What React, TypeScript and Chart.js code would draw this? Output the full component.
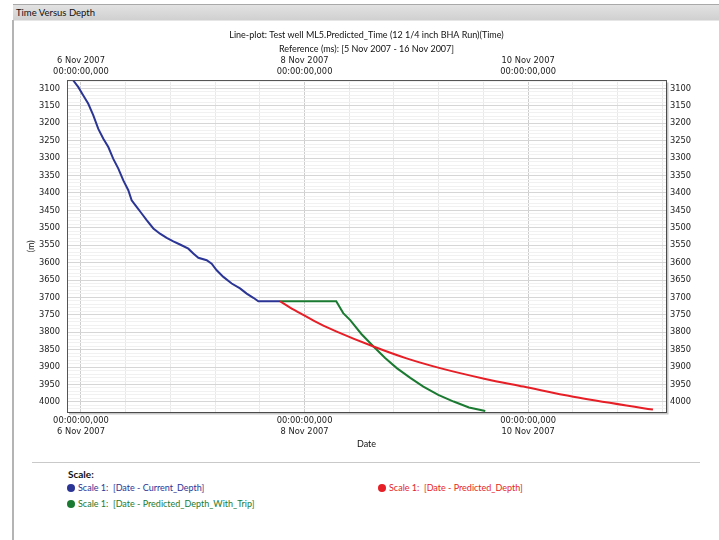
import React, { useEffect, useRef } from 'react';
import { Chart, registerables } from 'chart.js';

Chart.register(...registerables);

// ---------- texts ----------
const windowTitle = 'Time Versus Depth';
const chartTitle = 'Line-plot: Test well ML5.Predicted_Time (12 1/4 inch BHA Run)(Time)';
const chartSubtitle = 'Reference (ms): [5 Nov 2007 - 16 Nov 2007]';
const xAxisTitle = 'Date';
const yAxisTitle = '(m)';
const legendHeading = 'Scale:';

// ---------- data (x = hours since 6 Nov 2007 00:00, y = depth in m) ----------
const currentHours = [-1.65, -0.57, 0.5, 1.57, 2.65, 3.72, 4.8, 5.87, 6.94, 8.02, 9.09, 10.16, 10.88, 11.95, 13.03, 14.1, 15.54, 16.97, 18.4, 19.83, 21.26, 23.05, 24.12, 25.2, 26.99, 28.06, 29.14, 30.57, 32.36, 34.15, 35.58, 37.01, 38.08, 42.74];
const currentDepth = [3077, 3096, 3120, 3144, 3177, 3216, 3244, 3268, 3302, 3330, 3364, 3392, 3421, 3440, 3459, 3478, 3502, 3517, 3529, 3539, 3548, 3560, 3574, 3586, 3593, 3603, 3622, 3641, 3660, 3674, 3689, 3701, 3711, 3711];

const predictedHours = [42.74, 44.9, 47.7, 51.3, 54.9, 62.8, 69.9, 77.1, 86.8, 95.0, 105.7, 122.8];
const predictedDepth = [3711, 3729, 3750, 3776, 3798, 3841, 3875, 3903, 3934, 3956, 3985, 4022];

const tripHours = [42.74, 54.8, 56.3, 57.8, 60.2, 62.8, 65.3, 67.8, 70.7, 73.5, 76.7, 80.0, 83.3, 86.8];
const tripDepth = [3711, 3711, 3745, 3765, 3805, 3841, 3874, 3903, 3931, 3956, 3980, 3999, 4016, 4026];

// ---------- axes ----------
const dateTickHours = [0, 48, 96];
const dateTickLabels = ['6 Nov 2007', '8 Nov 2007', '10 Nov 2007'];
const timeTickLabel = '00:00:00,000';
const depthTickLabels = [3100, 3150, 3200, 3250, 3300, 3350, 3400, 3450, 3500, 3550, 3600, 3650, 3700, 3750, 3800, 3850, 3900, 3950, 4000];
const xMin = -3;
const xMax = 125.6;
const yMin = 3077;
const yMax = 4029;
const minorHourStep = 9.6;
const minorDepthStep = 10;

// ---------- series styling ----------
const seriesNames = ['Scale 1:  [Date - Current_Depth]', 'Scale 1:  [Date - Predicted_Depth]', 'Scale 1:  [Date - Predicted_Depth_With_Trip]'];
const seriesColors = ['#2b3595', '#e61e26', '#1b7a31'];

const tickFont = { family: 'DejaVu Sans', size: 8.3, lineHeight: 11 / 8.3 };
const uiFont = 'Lato, "Open Sans", sans-serif';

function buildXTicks(scale: any) {
  const t: any[] = [];
  for (let i = 0; i * minorHourStep <= xMax; i++) {
    t.push({ value: Math.round(i * minorHourStep * 100) / 100 });
  }
  scale.ticks = t;
}
function buildYTicks(scale: any) {
  const t: any[] = [];
  const start = Math.ceil(yMin / minorDepthStep) * minorDepthStep;
  for (let v = start; v <= yMax; v += minorDepthStep) t.push({ value: v });
  scale.ticks = t;
}
const isMajorHour = (v: number) => dateTickHours.indexOf(v) >= 0;
const isMajorDepth = (v: number) => depthTickLabels.indexOf(v) >= 0;

const shadowPlugin = {
  id: 'frameShadow',
  afterDraw(chart: any) {
    const { ctx, chartArea: a } = chart;
    ctx.save();
    ctx.strokeStyle = 'rgba(0,0,0,0.22)';
    ctx.lineWidth = 2;
    ctx.beginPath();
    ctx.moveTo(a.right + 1.5, a.top + 2);
    ctx.lineTo(a.right + 1.5, a.bottom + 1.5);
    ctx.lineTo(a.left + 2, a.bottom + 1.5);
    ctx.stroke();
    ctx.restore();
  },
};

export default function App() {
  const canvasRef = useRef<HTMLCanvasElement>(null);

  useEffect(() => {
    const canvas = canvasRef.current;
    if (!canvas) return;
    const toPts = (xs: number[], ys: number[]) => xs.map((x, i) => ({ x, y: ys[i] }));
    const borderOpts = { display: true, color: '#555555', width: 1 };
    const chart = new Chart(canvas, {
      type: 'line',
      data: {
        datasets: [
          {
            label: seriesNames[0],
            data: toPts(currentHours, currentDepth),
            borderColor: seriesColors[0],
            backgroundColor: seriesColors[0],
            borderWidth: 2,
            pointRadius: 0,
            tension: 0,
          },
          {
            label: seriesNames[1],
            data: toPts(predictedHours, predictedDepth),
            borderColor: seriesColors[1],
            backgroundColor: seriesColors[1],
            borderWidth: 2,
            pointRadius: 0,
            cubicInterpolationMode: 'monotone',
          },
          {
            label: seriesNames[2],
            data: toPts(tripHours, tripDepth),
            borderColor: seriesColors[2],
            backgroundColor: seriesColors[2],
            borderWidth: 2,
            pointRadius: 0,
            tension: 0,
          },
        ],
      } as any,
      options: {
        responsive: false,
        animation: false,
        events: [],
        layout: { padding: 0 },
        plugins: {
          legend: { display: false },
          tooltip: { enabled: false },
          title: {
            display: true,
            text: chartTitle,
            color: '#111',
            font: { family: uiFont, size: 9, weight: 'normal', lineHeight: 1.2 },
            padding: { top: 7.6, bottom: 0 },
          },
          subtitle: {
            display: true,
            text: chartSubtitle,
            color: '#111',
            font: { family: uiFont, size: 9, weight: 'normal', lineHeight: 1.2 },
            padding: { top: 3.7, bottom: 0 },
          },
        },
        scales: {
          x: {
            type: 'linear',
            position: 'bottom',
            min: xMin,
            max: xMax,
            afterBuildTicks: buildXTicks,
            afterFit: (s: any) => { s.height = 40; },
            ticks: {
              autoSkip: false,
              maxRotation: 0,
              minRotation: 0,
              padding: 3.5,
              color: '#1c1c1c',
              font: tickFont,
              callback: (v: any) => {
                const i = dateTickHours.indexOf(v);
                return i >= 0 ? [timeTickLabel, dateTickLabels[i]] : '';
              },
            },
            grid: {
              display: true,
              drawTicks: false,
              tickLength: 0,
              color: (c: any) => (c.tick && isMajorHour(c.tick.value) ? '#cdcdcd' : '#e9e9e9'),
            },
            border: borderOpts,
            title: {
              display: true,
              text: xAxisTitle,
              color: '#111',
              font: { family: uiFont, size: 9, lineHeight: 1.2 },
              padding: { top: 0, bottom: 2.6 },
            },
          },
          x2: {
            type: 'linear',
            position: 'top',
            min: xMin,
            max: xMax,
            afterBuildTicks: buildXTicks,
            afterFit: (s: any) => { s.height = 25.6; },
            ticks: {
              autoSkip: false,
              maxRotation: 0,
              minRotation: 0,
              padding: 3.5,
              color: '#1c1c1c',
              font: tickFont,
              callback: (v: any) => {
                const i = dateTickHours.indexOf(v);
                return i >= 0 ? [dateTickLabels[i], timeTickLabel] : '';
              },
            },
            grid: { display: false, drawTicks: false, tickLength: 0 },
            border: borderOpts,
          },
          y: {
            type: 'linear',
            position: 'left',
            reverse: true,
            min: yMin,
            max: yMax,
            afterBuildTicks: buildYTicks,
            afterFit: (s: any) => { s.width = 53; },
            ticks: {
              autoSkip: false,
              padding: 7,
              color: '#1c1c1c',
              font: tickFont,
              callback: (v: any) => (isMajorDepth(v) ? String(v) : ''),
            },
            grid: {
              display: true,
              drawTicks: false,
              tickLength: 0,
              color: (c: any) => (c.tick && isMajorDepth(c.tick.value) ? '#d6d6d6' : '#f1f1f1'),
            },
            border: borderOpts,
            title: {
              display: true,
              text: yAxisTitle,
              color: '#111',
              font: { family: uiFont, size: 9, lineHeight: 1.2 },
              padding: { top: 12, bottom: 0 },
            },
          },
          y2: {
            type: 'linear',
            position: 'right',
            reverse: true,
            min: yMin,
            max: yMax,
            afterBuildTicks: buildYTicks,
            afterFit: (s: any) => { s.width = 53; },
            ticks: {
              autoSkip: false,
              padding: 4,
              color: '#1c1c1c',
              font: tickFont,
              callback: (v: any) => (isMajorDepth(v) ? String(v) : ''),
            },
            grid: { display: false, drawTicks: false, tickLength: 0 },
            border: borderOpts,
          },
        },
      } as any,
      plugins: [shadowPlugin],
    });
    return () => chart.destroy();
  }, []);

  const legendRows = [
    { name: seriesNames[0], color: seriesColors[0], left: 67, top: 488 },
    { name: seriesNames[1], color: seriesColors[1], left: 378, top: 488 },
    { name: seriesNames[2], color: seriesColors[2], left: 67, top: 504 },
  ];

  return (
    <div style={{ position: 'absolute', left: 0, top: 0, width: 719, height: 540, background: '#fff', overflow: 'hidden' }}>
      <div
        style={{
          position: 'absolute', left: 13, top: 4, width: 706, height: 17, boxSizing: 'border-box',
          background: 'linear-gradient(#e2e2e2, #d0d0d0)', borderTop: '1px solid #a9a9a9', borderBottom: '1px solid #e6e6e6',
        }}
      >
        <span style={{ position: 'absolute', left: 3, top: 0, lineHeight: '15px', fontFamily: uiFont, fontSize: 9.5, color: '#111' }}>
          {windowTitle}
        </span>
      </div>
      <div style={{ position: 'absolute', left: 12, top: 20, width: 2, height: 520, background: '#b4b4b4' }} />
      <canvas
        ref={canvasRef}
        width={705}
        height={430}
        style={{ position: 'absolute', left: 14, top: 22, width: 705, height: 430, display: 'block' }}
      />
      <div style={{ position: 'absolute', left: 32, top: 462, width: 668, height: 1, background: '#c9c9c9' }} />
      <div style={{ position: 'absolute', left: 68, top: 468, lineHeight: '12px', fontFamily: uiFont, fontSize: 10, fontWeight: 'bold', color: '#111' }}>
        {legendHeading}
      </div>
      {legendRows.map((r) => (
        <div
          key={r.name}
          style={{ position: 'absolute', left: r.left, top: r.top - 6, height: 12, display: 'flex', alignItems: 'center', whiteSpace: 'pre' }}
        >
          <span style={{ width: 8, height: 8, borderRadius: '50%', background: r.color, display: 'inline-block', marginRight: 3 }} />
          <span style={{ fontFamily: uiFont, fontSize: 9, color: r.color, lineHeight: '12px' }}>{r.name}</span>
        </div>
      ))}
    </div>
  );
}
